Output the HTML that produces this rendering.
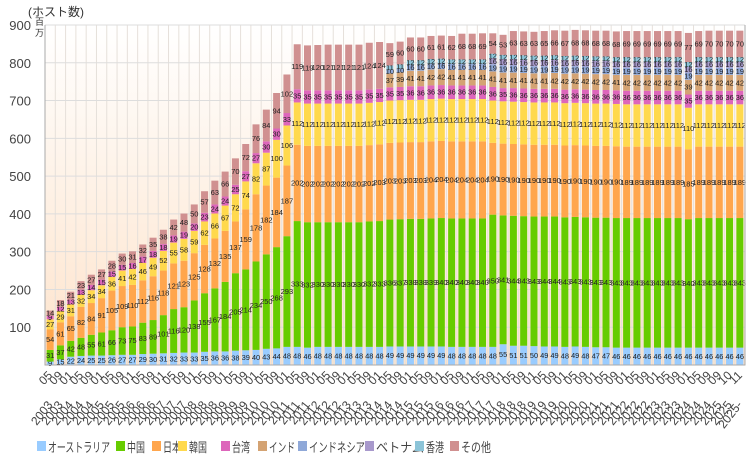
<!DOCTYPE html>
<html><head><meta charset="utf-8"><style>
body{margin:0;background:#fff;width:755px;height:460px;overflow:hidden}
svg{display:block;font-family:"Liberation Sans","Noto Sans CJK JP",sans-serif}
</style></head><body>
<svg id="chart" width="755" height="460">
<defs><linearGradient id="bg" x1="0" y1="0" x2="0" y2="1"><stop offset="0" stop-color="#ffffff"/><stop offset="1" stop-color="#fde3cb"/></linearGradient></defs>
</svg>
<script>
const months=[];
(function(){let y=2003,m=5;for(let i=0;i<65;i++){months.push(y+'-'+String(m).padStart(2,'0'));m+=4;if(m>12){m-=12;y++;}}months.push('2025-09','2025-10','2025-11');})();
const seriesNames=['オーストラリア','中国','日本','韓国','台湾','インド','インドネシア','ベトナム','香港','その他'];
const colors=['#99ccff','#66cc00','#ffa64d','#ffd94d','#dd66bb','#d4a373','#8fa8d8','#a899cc','#8cc4d8','#d09090'];
const AU=[9,15,22,24,25,25,26,27,27,29,30,31,32,33,33,35,36,36,38,39,40,43,44,48,48,46,48,48,48,48,48,48,48,49,49,49,49,49,49,48,48,48,48,48,55,51,51,50,49,49,48,49,48,47,47,46,46,46,46,46,46,46,46,46,46,46,46,46];
const CN=[31,37,42,48,55,61,66,73,75,83,89,101,116,120,138,155,167,184,205,214,234,250,268,293,333,332,330,330,330,330,330,332,333,336,337,338,338,339,340,340,340,340,340,350,341,344,343,343,344,344,343,343,343,343,343,343,343,343,343,343,343,343,340,343,343,343,343,343];
const JP=[54,61,65,82,84,91,105,109,110,112,116,118,121,123,125,128,132,135,137,159,178,182,184,187,202,202,202,202,202,202,202,202,203,203,203,203,203,204,204,204,204,204,204,190,190,190,190,190,190,190,190,190,190,190,190,190,189,189,189,189,189,189,185,189,189,189,189,189];
const KR=[27,29,31,32,34,34,36,41,42,46,49,52,55,58,59,62,66,67,72,74,82,87,100,106,112,112,112,112,112,112,112,112,112,112,112,112,112,112,112,112,112,112,112,112,112,112,112,112,112,112,112,112,112,112,112,112,112,112,112,112,112,112,110,112,112,112,112,112];
const TW=[9,12,13,13,14,15,15,15,16,17,18,18,19,19,20,23,24,24,25,27,27,30,30,33,35,35,35,35,35,35,35,35,35,35,35,36,36,36,36,36,36,36,36,36,35,36,36,36,36,36,36,36,36,36,36,36,36,36,36,36,36,36,35,36,36,36,36,36];
const IN=[0,0,0,0,0,0,0,0,0,0,0,0,0,0,0,0,0,0,0,0,0,0,0,0,0,0,0,0,0,0,0,0,0,37,39,41,41,42,42,41,41,41,41,41,41,41,41,41,41,42,42,42,42,42,42,41,42,42,42,42,42,42,39,42,42,42,42,42];
const ID=[0,0,0,0,0,0,0,0,0,0,0,0,0,0,0,0,0,0,0,0,0,0,0,0,0,0,0,0,0,0,0,0,0,10,10,16,16,16,16,16,16,16,16,19,19,19,19,19,19,19,19,19,19,19,19,19,19,19,19,19,19,19,19,19,19,19,19,19];
const VN=[0,0,0,0,0,0,0,0,0,0,0,0,0,0,0,0,0,0,0,0,0,0,0,0,0,0,0,0,0,0,0,0,0,0,0,0,0,0,0,0,0,0,0,16,16,16,16,16,16,16,16,16,16,16,16,16,16,16,16,16,16,16,16,16,16,16,16,16];
const HK=[0,0,0,0,0,0,0,0,0,0,0,0,0,0,0,0,0,0,0,0,0,0,0,0,0,0,0,0,0,0,0,0,0,11,11,12,12,12,12,12,12,12,12,12,12,12,12,12,12,12,12,12,12,12,12,12,12,12,12,12,12,12,12,12,12,12,12,12];
const OT=[14,18,21,23,27,27,28,30,31,32,35,38,42,48,50,57,63,66,70,72,76,84,94,102,119,119,120,121,121,121,121,124,124,59,60,60,60,61,61,62,68,68,69,54,53,63,63,63,65,66,67,68,68,68,68,68,69,69,69,69,69,69,77,69,70,70,70,70];
const yTicks=[100,200,300,400,500,600,700,800,900];
const series=[AU,CN,JP,KR,TW,IN,ID,VN,HK,OT];

const NS='http://www.w3.org/2000/svg';
const svg=document.getElementById('chart');
const L=45,R=745,T=25,B=365,YMAX=900;
const n=months.length,pitch=(R-L)/n,bw=pitch*0.68;
const y=v=>B-(v/YMAX)*(B-T);
const xc=i=>L+pitch*(i+0.5);
function mk(tag,attrs,parent){const e=document.createElementNS(NS,tag);for(const k in attrs)e.setAttribute(k,attrs[k]);(parent||svg).appendChild(e);return e;}

const bg=mk('rect',{x:L,y:T,width:R-L,height:B-T,fill:'url(#bg)'});


for(let i=0;i<=n;i++){const g=mk('line',{x1:L+pitch*i,x2:L+pitch*i,y1:T,y2:B,stroke:'#e6e0da','stroke-width':1});

}
yTicks.forEach(t=>{const g=mk('line',{x1:L,x2:R,y1:y(t),y2:y(t),stroke:'#ddd','stroke-width':1});


const tx=mk('text',{x:31,y:y(t)+5,'text-anchor':'end','font-size':13,fill:'#444'});tx.textContent=t;

});

for(let i=0;i<n;i++){let acc=0;
 series.forEach((s,k)=>{const v=s[i];if(!v)return;
  const r=mk('rect',{x:xc(i)-bw/2,y:y(acc+v),width:bw,height:y(acc)-y(acc+v),fill:colors[k]});
  
  
  const mid=(y(acc)+y(acc+v))/2;
  const t=mk('text',{x:xc(i),y:mid+2.5,'text-anchor':'middle','font-size':7.5,fill:'#222'});t.textContent=v;
  
  
  acc+=v;});
}
const ax=mk('path',{d:`M${L} ${T}V${B}H${R}V${T}`,fill:'none',stroke:'#aaa','stroke-width':1});



months.forEach((m,i)=>{const [yr,mo]=m.split('-');const x=xc(i);
 const a=mk('text',{x:x+3,y:376,'text-anchor':'end','font-size':12,fill:'#444',transform:`rotate(-45 ${x+3} 376)`});a.textContent=mo;
 
 
 const b=mk('text',{x:x+3,y:405,'text-anchor':'end','font-size':12,fill:'#444',transform:`rotate(-52 ${x+3} 405)`});b.textContent=yr+(i===n-1?'-':'');
 
 });

const unit=mk('text',{x:28,y:16,'font-size':12,fill:'#333'});unit.textContent='(ホスト数)';


const u2=mk('text',{x:35,y:25,'font-size':9,fill:'#333'});u2.textContent='百';


const u3=mk('text',{x:35,y:36,'font-size':9,fill:'#333'});u3.textContent='万';



const legX=[37,116,152,178,221,258,298,365,415,450];
const legW=[62,18,18,18,18,26,56,48,18,30];
seriesNames.forEach((nm,k)=>{const g=mk('g',{});
 
 
 mk('rect',{x:legX[k],y:441,width:9,height:10,fill:colors[k]},g);
 const t=mk('text',{x:legX[k]+11,y:452,'font-size':13,fill:'#444',textLength:legW[k],lengthAdjust:'spacingAndGlyphs'},g);t.textContent=nm;});
</script>
</body></html>
